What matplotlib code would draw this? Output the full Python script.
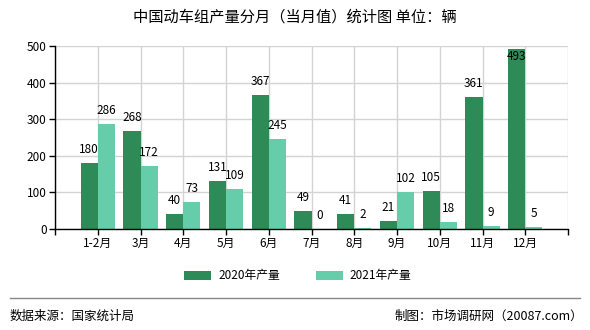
import matplotlib.pyplot as plt
import numpy as np

plt.rcParams['font.family'] = ['Noto Sans CJK SC', 'DejaVu Sans']

months = ['1-2月', '3月', '4月', '5月', '6月', '7月', '8月', '9月', '10月', '11月', '12月']
output_2020 = [180, 268, 40, 131, 367, 49, 41, 21, 105, 361, 493]
output_2021 = [286, 172, 73, 109, 245, 0, 2, 102, 18, 9, 5]
yticks = [0, 100, 200, 300, 400, 500]

c2020 = '#2e8b57'
c2021 = '#66cdaa'

fig = plt.figure(figsize=(5.9, 3.3), dpi=100)
ax = fig.add_axes([55 / 590, 1 - 229 / 330, 513 / 590, 183 / 330])

x = np.arange(1, len(months) + 1)
w = 0.4
b1 = ax.bar(x - w / 2, output_2020, w, color=c2020, label='2020年产量', zorder=2)
b2 = ax.bar(x + w / 2, output_2021, w, color=c2021, label='2021年产量', zorder=2)

# value labels above each bar; the tallest one sits just inside the top
for bars, vals in ((b1, output_2020), (b2, output_2021)):
    for r, v in zip(bars, vals):
        cx = r.get_x() + r.get_width() / 2
        if v > 480:
            ax.annotate(str(v), (cx, v), xytext=(0, -1), textcoords='offset points',
                        ha='center', va='top', fontsize=8.5, zorder=3)
        else:
            ax.annotate(str(v), (cx, v), xytext=(0, 5), textcoords='offset points',
                        ha='center', va='bottom', fontsize=8.5, zorder=3)

ax.set_xlim(0, 12)
ax.set_ylim(0, 500)
ax.set_xticks(range(0, 13))
ax.set_xticklabels([''] + months + [''], fontsize=8.5)
ax.set_yticks(yticks)
ax.set_yticklabels([str(t) for t in yticks], fontsize=8.5)
ax.grid(True, color='#d3d3d3', linewidth=1, zorder=0)
for s in ('top', 'right'):
    ax.spines[s].set_visible(False)
ax.spines['left'].set_linewidth(1)
ax.spines['bottom'].set_linewidth(1)
ax.tick_params(length=4, width=1, pad=2)

fig.text(0.5, 1 - 17 / 330, '中国动车组产量分月（当月值）统计图 单位：辆',
         ha='center', va='center', fontsize=11)

fig.legend(handles=[b1, b2], loc='center', bbox_to_anchor=(0.505, 1 - 276 / 330),
           ncol=2, frameon=False, fontsize=8.5, handlelength=2.3, handleheight=0.9,
           handletextpad=0.6, columnspacing=3)

fig.add_artist(plt.Line2D([10 / 590, 580 / 590], [1 - 298 / 330, 1 - 298 / 330],
                          color='#888888', linewidth=1))
fig.text(10 / 590, 1 - 316 / 330, '数据来源：国家统计局', ha='left', va='center', fontsize=9)
fig.text(583 / 590, 1 - 316 / 330, '制图：市场调研网（20087.com）', ha='right', va='center', fontsize=9)

fig.savefig('out.png', dpi=100)
